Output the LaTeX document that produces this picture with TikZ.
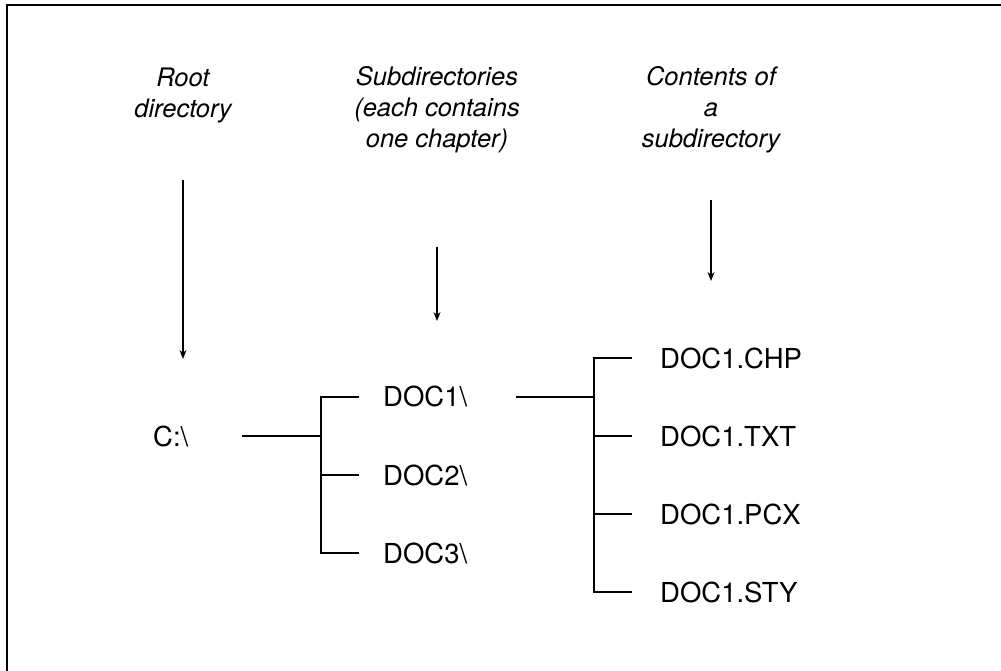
\documentclass[tikz,border=0pt]{standalone}
\usepackage{fontspec}
\setmainfont{TeX Gyre Heros}
\usetikzlibrary{arrows.meta}
\begin{document}
\begin{tikzpicture}[x=1pt,y=-1pt,
  lbl/.style={font=\fontsize{25.5}{31}\selectfont\itshape, align=center, inner sep=0pt},
  item/.style={font=\fontsize{27.5}{30}\selectfont, anchor=west, inner sep=0pt},
  ln/.style={line width=1.6pt},
  arr/.style={line width=1.4pt, -{Stealth[length=9pt,width=7pt]}}]
\useasboundingbox (0,0) rectangle (1001,671);
\draw[line width=2.5pt] (7,671) -- (7,5) -- (1001,5);
% labels
\node[lbl] (lroot) at (183,95) {Root\\directory};
\node[lbl] (lsub) at (437,110) {Subdirectories\\(each contains\\one chapter)};
\node[lbl] (lcont) at (711,110) {Contents of\\a\\subdirectory};
% arrows
\coordinate (a1s) at (183,180); \coordinate (a1e) at (183,359);
\coordinate (a2s) at (437,247); \coordinate (a2e) at (437,321);
\coordinate (a3s) at (711,200); \coordinate (a3e) at (711,281);
\draw[arr] (a1s) -- (a1e);
\draw[arr] (a2s) -- (a2e);
\draw[arr] (a3s) -- (a3e);
% nodes
\node[item] (c) at (153,437) {C:\textbackslash};
\node[item] (d1) at (383,397) {DOC1\textbackslash};
\node[item] (d2) at (383,475) {DOC2\textbackslash};
\node[item] (d3) at (383,553) {DOC3\textbackslash};
\node[item] (f1) at (660,358) {DOC1.CHP};
\node[item] (f2) at (660,436) {DOC1.TXT};
\node[item] (f3) at (660,514) {DOC1.PCX};
\node[item] (f4) at (660,592) {DOC1.STY};
% bracket 1
\coordinate (c0) at (242,436);
\coordinate (b1j) at (321,436);
\coordinate (b1t) at (321,397);
\coordinate (b1m) at (321,475);
\coordinate (b1b) at (321,553);
\coordinate (t1) at (359,397);
\coordinate (t2) at (359,475);
\coordinate (t3) at (359,553);
\draw[ln] (c0) -- (b1j);
\draw[ln] (t1) -- (b1t) -- (b1b) -- (t3);
\draw[ln] (b1m) -- (t2);
% bracket 2
\coordinate (e0) at (516,397);
\coordinate (b2j) at (594,397);
\coordinate (b2t) at (594,358);
\coordinate (b2a) at (594,436);
\coordinate (b2b) at (594,514);
\coordinate (b2c) at (594,592);
\coordinate (u1) at (632,358);
\coordinate (u2) at (632,436);
\coordinate (u3) at (632,514);
\coordinate (u4) at (632,592);
\draw[ln] (e0) -- (b2j);
\draw[ln] (u1) -- (b2t) -- (b2c) -- (u4);
\draw[ln] (b2a) -- (u2);
\draw[ln] (b2b) -- (u3);
\end{tikzpicture}
\end{document}
